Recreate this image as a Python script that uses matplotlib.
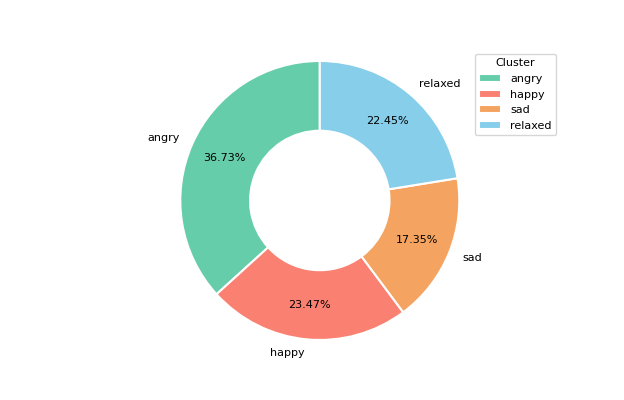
import matplotlib
import matplotlib.pyplot as plt

matplotlib.use("Agg")

# cluster sizes (percentages are out of 98 tracks)
clusters = ["angry", "happy", "sad", "relaxed"]
counts = [36, 23, 17, 22]
colors = ["#66cdaa", "#fa8072", "#f4a460", "#87ceeb"]

fig, ax = plt.subplots(figsize=(6.24, 4.0), dpi=100)

wedges, texts, autotexts = ax.pie(
    counts,
    labels=clusters,
    colors=colors,
    autopct="%1.2f%%",
    startangle=90,
    pctdistance=0.75,
    wedgeprops=dict(width=0.5, edgecolor="white", linewidth=1.5),
    textprops=dict(fontsize=8),
)
ax.set_aspect("equal")
ax.set_xlim(-1.72, 1.72)
ax.set_ylim(-1.115, 1.093)

ax.legend(wedges, clusters, title="Cluster", loc="upper right",
          bbox_to_anchor=(0.9, 0.879), bbox_transform=fig.transFigure,
          fontsize=8, title_fontsize=8)

fig.savefig("out.png")
